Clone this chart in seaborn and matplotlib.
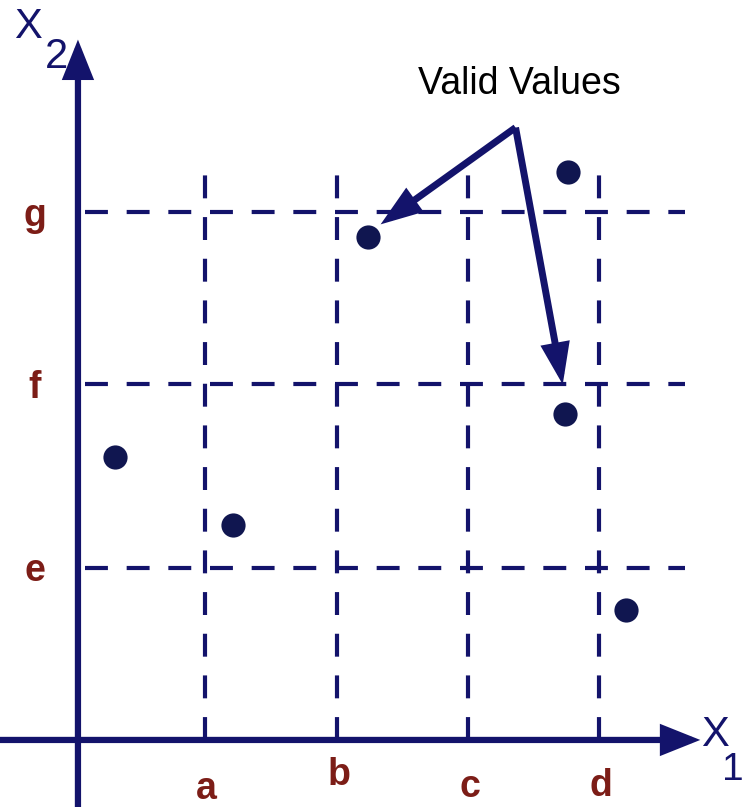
import matplotlib.pyplot as plt
import pandas as pd
import seaborn as sns

# grid positions on each axis
x_labels = ["a", "b", "c", "d"]
x_cuts = [0.97, 1.98, 2.98, 3.98]
y_labels = ["e", "f", "g"]
y_cuts = [0.98, 2.02, 3.0]

# sample points
pt_x = [0.28, 1.18, 2.21, 3.74, 3.72, 4.18]
pt_y = [1.61, 1.22, 2.86, 3.23, 1.85, 0.74]

# the two points the callout refers to
valid_idx = [2, 4]

navy = "#13136b"
dot = "#101650"
red = "#7c1d17"

sns.set_style("white")
plt.rcParams["font.family"] = ["Liberation Sans", "DejaVu Sans"]

fig = plt.figure(figsize=(7.43, 8.07), dpi=100)
ax = fig.add_axes([0, 0, 1, 1])

# dashed grid
for xv in x_cuts:
    ax.plot([xv, xv], [0, 3.3], color=navy, lw=3, dashes=(5.5, 4.5), zorder=1)
for yv in y_cuts:
    ax.plot([0.05, 4.63], [yv, yv], color=navy, lw=3, dashes=(5.5, 4.5), zorder=1)

# axes with arrow heads
axis_arrow = dict(arrowstyle="-|>,head_length=0.8,head_width=0.32", lw=4.5,
                  color=navy, mutation_scale=26, shrinkA=0, shrinkB=0,
                  joinstyle="miter", capstyle="butt")
ax.annotate("", xy=(0, 3.98), xytext=(0, -0.4), arrowprops=axis_arrow, zorder=3)
ax.annotate("", xy=(4.75, 0), xytext=(-0.6, 0), arrowprops=axis_arrow, zorder=3)

# points
df = pd.DataFrame({"x1": pt_x, "x2": pt_y})
sns.scatterplot(data=df, x="x1", y="x2", ax=ax, color=dot, s=260,
                edgecolor=dot, zorder=4, legend=False)
ax.set_xlim(-0.595, 5.076)
ax.set_ylim(-0.381, 4.205)
ax.axis("off")

# tick letters
lab_kw = dict(color=red, fontsize=27, fontweight="bold", ha="center", va="center")
x_offsets = [-0.28, -0.2, -0.27, -0.26]
for xv, lab, off in zip(x_cuts, x_labels, x_offsets):
    ax.text(xv + 0.01, off, lab, **lab_kw)
for yv, lab in zip(y_cuts, y_labels):
    ax.text(-0.33, yv - 0.02, lab, **lab_kw)

# axis names
ax.text(-0.38, 4.05, "X", color=navy, fontsize=30, ha="center", va="center")
ax.text(-0.16, 3.88, "2", color=navy, fontsize=30, ha="center", va="center")
ax.text(4.86, 0.03, "X", color=navy, fontsize=30, ha="center", va="center")
ax.text(4.995, -0.17, "1", color=navy, fontsize=28, ha="center", va="center")

# callout
src = (3.34, 3.48)
ax.text(3.37, 3.73, "Valid Values", color="black", fontsize=27,
        ha="center", va="center")
for i in valid_idx:
    tx = pt_x[i] + (0.1 if pt_x[i] < src[0] else -0.02)
    ty = pt_y[i] + (0.07 if pt_x[i] < src[0] else 0.17)
    ax.annotate("", xy=(tx, ty), xytext=src, zorder=5,
                arrowprops=dict(arrowstyle="-|>,head_length=0.85,head_width=0.3",
                                lw=5, color=navy, mutation_scale=24,
                                shrinkA=0, shrinkB=0, joinstyle="miter",
                                capstyle="butt"))

fig.savefig("out.png", dpi=100)
